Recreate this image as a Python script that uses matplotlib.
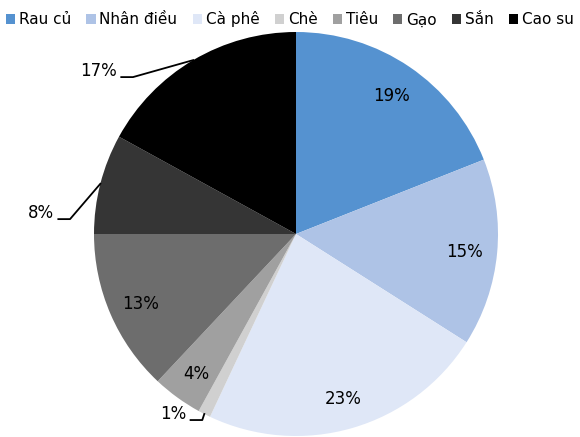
import numpy as np
import matplotlib.pyplot as plt

# Share of each crop (%), clockwise from 12 o'clock
crops = ['Rau củ', 'Nhân điều', 'Cà phê', 'Chè', 'Tiêu', 'Gạo', 'Sắn', 'Cao su']
shares = [19, 15, 23, 1, 4, 13, 8, 17]
colors = ['#5592d0', '#aec3e6', '#dfe7f7', '#d0d0d0', '#a0a0a0',
          '#6d6d6d', '#353535', '#000000']
# small slices get their label outside with a leader line
outside = {'Chè': (-0.01, -0.03), 'Sắn': (-0.15, -0.175), 'Cao su': (-0.298, -0.084)}

plt.rcParams['font.family'] = ['DejaVu Sans']

fig = plt.figure(figsize=(5.8, 4.37), dpi=100)
ax = fig.add_axes([0, 0, 1, 1])

wedges, _ = ax.pie(shares, colors=colors, startangle=90, counterclock=False,
                   radius=1.0, frame=True, wedgeprops=dict(linewidth=0))
# center at (296, 234) px, radius 202 px
ax.set_xlim(-296 / 202, (580 - 296) / 202)
ax.set_ylim((234 - 437) / 202, 234 / 202)
ax.set_aspect('auto')
ax.axis('off')

for w, name, val in zip(wedges, crops, shares):
    ang = np.deg2rad((w.theta1 + w.theta2) / 2)
    ex, ey = np.cos(ang), np.sin(ang)
    if name in outside:
        dx, dy = outside[name]
        kx, ky = ex + dx, ey + dy
        hx = kx - 0.058
        ax.plot([ex, kx, hx], [ey, ky, ky], color='black', lw=1.3, clip_on=False)
        ax.text(hx - 0.02, ky + 0.028, f'{val}%', ha='right', va='center',
                fontsize=12, color='black')
    else:
        ax.text(0.84 * ex, 0.84 * ey - 0.012, f'{val}%', ha='center', va='center',
                fontsize=12, color='black')

fig.legend(wedges, crops, loc='upper center', bbox_to_anchor=(0.5, 0.995),
           ncol=8, frameon=False, fontsize=11, handlelength=0.6,
           handleheight=0.6, handletextpad=0.25, columnspacing=1.0,
           borderaxespad=0.2)

fig.savefig('out.png', dpi=100)
